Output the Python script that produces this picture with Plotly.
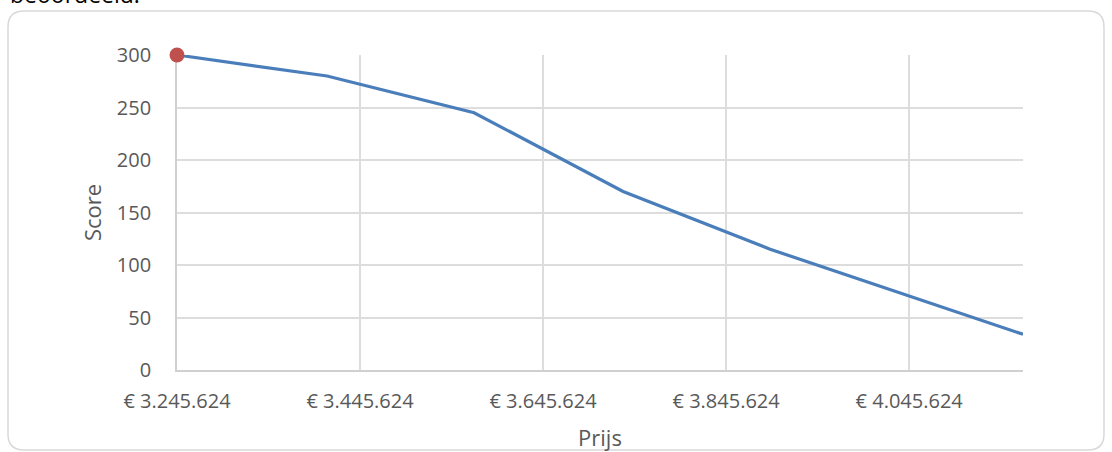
import plotly.graph_objects as go

# Data
prijs = [3245624, 3409558, 3570214, 3733056, 3893711, 4170000]
score = [300, 280, 245, 170, 115, 34]
highlight_prijs = [3245624]
highlight_score = [300]

x_tick_values = [3245624, 3445624, 3645624, 3845624, 4045624]
x_tick_labels = ["€ 3.245.624", "€ 3.445.624", "€ 3.645.624", "€ 3.845.624", "€ 4.045.624"]
y_tick_values = [0, 50, 100, 150, 200, 250, 300]

W, H = 1112, 452
L, R, T, B = 177, 89, 55, 82
pw, ph = W - L - R, H - T - B

def px(xp):
    return (xp - L) / pw

def py(yp):
    return (H - B - yp) / ph

fig = go.Figure()
fig.add_trace(go.Scatter(
    x=prijs, y=score, mode="lines",
    line=dict(color="#4A7EBB", width=3.2),
    hoverinfo="x+y", showlegend=False,
))
fig.add_trace(go.Scatter(
    x=highlight_prijs, y=highlight_score, mode="markers",
    marker=dict(color="#C0504D", size=15, line=dict(width=0)),
    cliponaxis=False, showlegend=False,
))

# rounded border around chart area
x0, x1 = px(8), px(1104)
y0, y1 = py(450), py(11)
rx, ry = 16 / pw, 16 / ph
path = (f"M {x0+rx},{y1} L {x1-rx},{y1} Q {x1},{y1} {x1},{y1-ry} "
        f"L {x1},{y0+ry} Q {x1},{y0} {x1-rx},{y0} L {x0+rx},{y0} "
        f"Q {x0},{y0} {x0},{y0+ry} L {x0},{y1-ry} Q {x0},{y1} {x0+rx},{y1} Z")
fig.add_shape(type="path", path=path, xref="paper", yref="paper",
              line=dict(color="#D9D9D9", width=1.5), layer="below")

fig.add_annotation(text="beoordeeld:", xref="paper", yref="paper",
                   x=px(8), y=py(12), xanchor="left", yanchor="bottom",
                   showarrow=False, font=dict(size=23, color="#000000"))

font_family = "Open Sans"
fig.update_layout(
    width=W, height=H,
    margin=dict(l=L, r=R, t=T, b=B, autoexpand=False),
    paper_bgcolor="white", plot_bgcolor="white",
    font=dict(family=font_family, color="#595959", size=20),
    xaxis=dict(
        range=[3245624, 4170000],
        tickvals=x_tick_values, ticktext=x_tick_labels,
        showgrid=True, gridcolor="#DDDDDD", gridwidth=1.6,
        showline=True, linecolor="#D0D0D0", linewidth=1.8,
        ticks="outside", ticklen=12, tickcolor="rgba(0,0,0,0)",
        tickfont=dict(size=20, color="#595959"),
        title=dict(text="Prijs", font=dict(size=22, color="#595959"), standoff=18),
        zeroline=False, fixedrange=True, layer="below traces",
    ),
    yaxis=dict(
        range=[0, 300],
        tickvals=y_tick_values,
        showgrid=True, gridcolor="#DDDDDD", gridwidth=1.6,
        showline=True, linecolor="#D0D0D0", linewidth=1.8,
        ticks="outside", ticklen=20, tickcolor="rgba(0,0,0,0)",
        tickfont=dict(size=20, color="#595959"),
        title=dict(text="Score", font=dict(size=22, color="#595959"), standoff=9),
        zeroline=False, fixedrange=True, layer="below traces",
    ),
)

fig.write_html("out.html", config={"displayModeBar": False},
               post_script="document.body.style.margin='0';")
